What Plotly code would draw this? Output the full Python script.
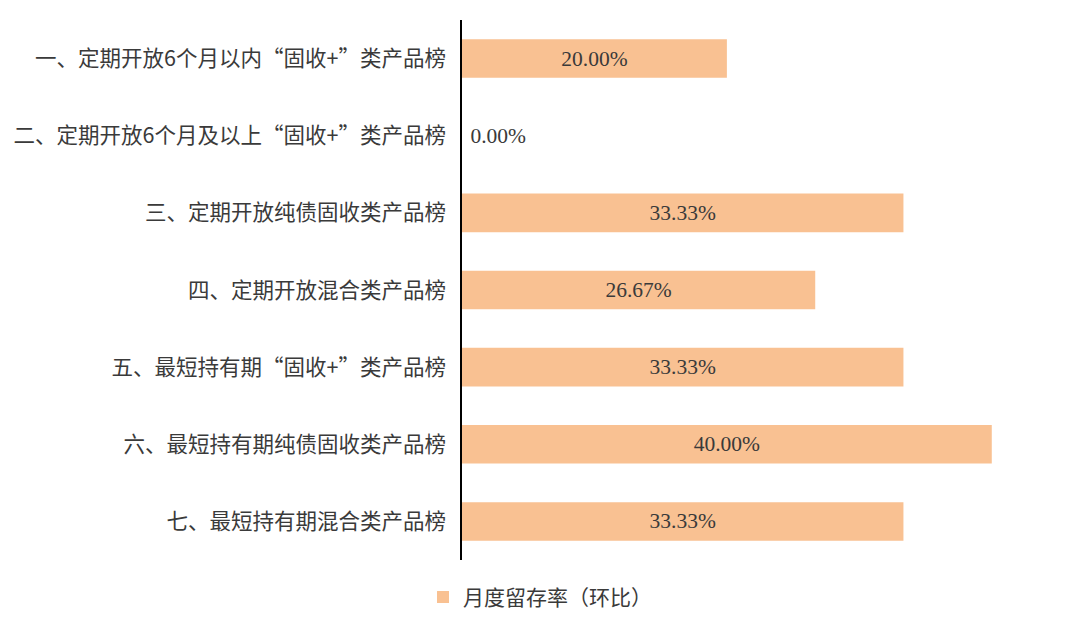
import plotly.graph_objects as go

# categories and monthly retention values (%)
categories = [
    "一、定期开放6个月以内“固收+”类产品榜",
    "二、定期开放6个月及以上“固收+”类产品榜",
    "三、定期开放纯债固收类产品榜",
    "四、定期开放混合类产品榜",
    "五、最短持有期“固收+”类产品榜",
    "六、最短持有期纯债固收类产品榜",
    "七、最短持有期混合类产品榜",
]
retention = [20.00, 0.00, 33.33, 26.67, 33.33, 40.00, 33.33]
series_name = "月度留存率（环比）"

num_font = "Liberation Serif, 'Times New Roman', serif"
cjk_font = "'Noto Sans CJK SC', 'Noto Sans', sans-serif"
text_color = "#3a3a3a"
bar_color = "#F9C192"

# zero bar cannot hold its label inside, put it outside (with a little gap)
positions = ["outside" if v == 0 else "inside" for v in retention]
labels = [("\u00a0" if v == 0 else "") + f"{v:.2f}%" for v in retention]

fig = go.Figure()
fig.add_trace(go.Bar(
    x=retention,
    y=categories,
    orientation="h",
    name=series_name,
    marker=dict(color=bar_color, line=dict(width=0)),
    text=labels,
    textposition=positions,
    insidetextanchor="middle",
    constraintext="none",
    textfont=dict(family=num_font, size=21.5, color=text_color),
    cliponaxis=False,
    hoverinfo="x+y",
))

# the page body has an 8px margin, so margins are shifted to compensate
fig.update_layout(
    width=1080,
    height=625,
    paper_bgcolor="white",
    plot_bgcolor="white",
    margin=dict(l=454, r=30, t=12, b=73),
    bargap=0.5,
    showlegend=True,
    legend=dict(
        orientation="h",
        xref="container", yref="container",
        x=0.4926, xanchor="center",
        y=0.057, yanchor="middle",
        font=dict(family=cjk_font, size=21, color=text_color),
        itemwidth=30,
    ),
    font=dict(family=cjk_font, color=text_color),
)

fig.update_xaxes(
    range=[0, 45],
    showgrid=False,
    zeroline=False,
    showticklabels=False,
    showline=False,
)
fig.update_yaxes(
    autorange="reversed",
    automargin=False,
    showgrid=False,
    showline=True,
    linecolor="black",
    linewidth=1.5,
    ticks="",
    ticklabelstandoff=10,
    tickfont=dict(family=cjk_font, size=21.5, color=text_color),
)

fig.write_html("out.html")
